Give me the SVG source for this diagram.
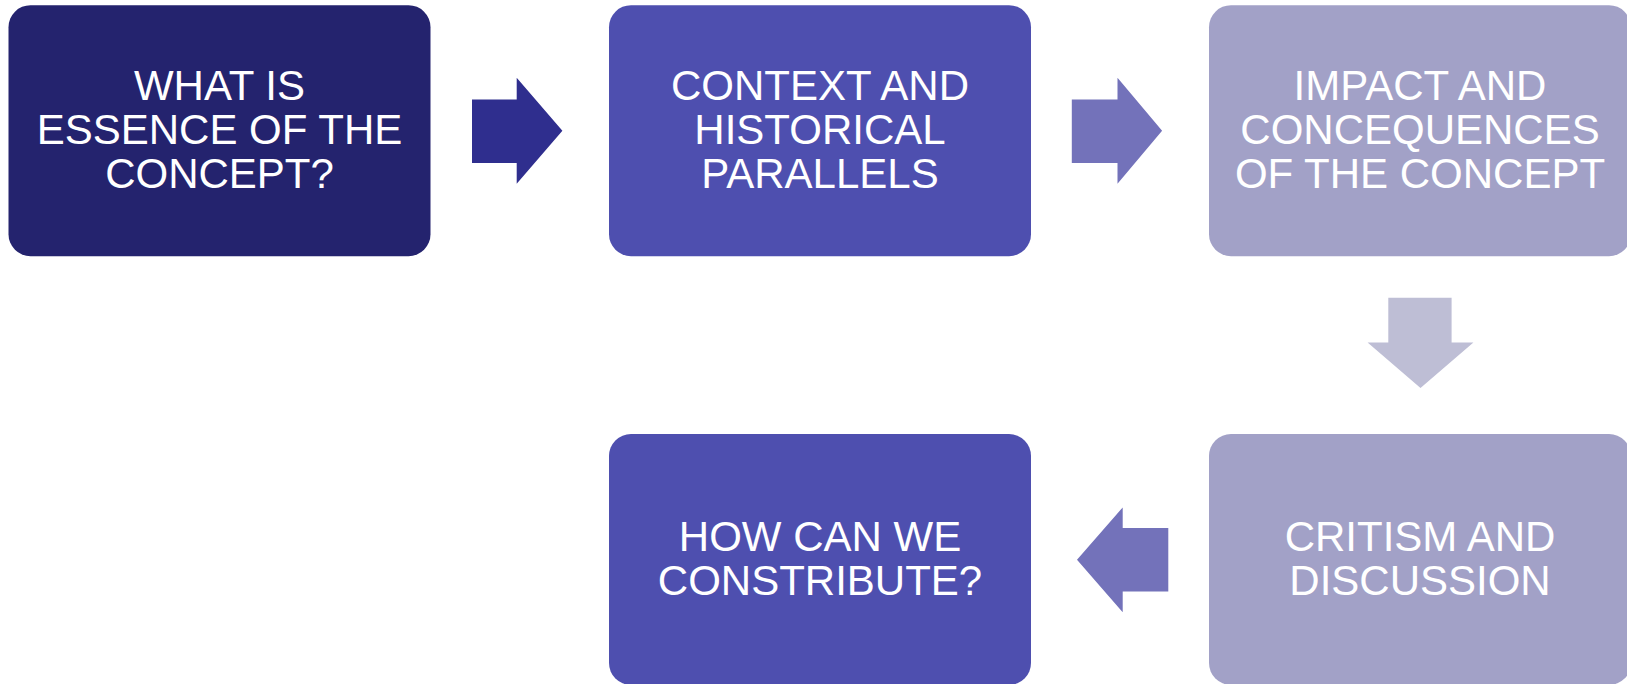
<svg xmlns="http://www.w3.org/2000/svg" width="1627" height="684" viewBox="0 0 1627 684">
<style>
.t{font-family:"Liberation Sans",Arial,sans-serif;font-size:42px;fill:#fff;text-anchor:middle}
</style>
<rect width="1627" height="684" fill="#fff"/>
<g id="connectors">
<polygon points="472,99.6 516.7,99.6 516.7,77.8 562.4,130.75 516.7,183.7 516.7,162.9 472,162.9" fill="#2F2E8E"/>
<polygon points="1071.8,99.6 1117.5,99.6 1117.5,77.8 1162.1,130.75 1117.5,183.7 1117.5,162.9 1071.8,162.9" fill="#7372BA"/>
<polygon points="1388.3,297.8 1451.6,297.8 1451.6,342.4 1473.4,342.4 1420.5,388 1367.6,342.4 1388.3,342.4" fill="#BEBED5"/>
<polygon points="1168.3,528.1 1122.7,528.1 1122.7,507.4 1077,559.8 1122.7,612.2 1122.7,591.4 1168.3,591.4" fill="#7372BA"/>
</g>
<g id="n1">
<rect x="8.5" y="5.2" width="422" height="251" rx="22" fill="#24236E"/>
<text class="t" x="219.5" y="100.2">WHAT IS</text>
<text class="t" x="219.5" y="144.2">ESSENCE OF THE</text>
<text class="t" x="219.5" y="188.2">CONCEPT?</text>
</g>
<g id="n2">
<rect x="609" y="5.2" width="422" height="251" rx="22" fill="#4E4FAF"/>
<text class="t" x="820" y="100.2">CONTEXT AND</text>
<text class="t" x="820" y="144.2">HISTORICAL</text>
<text class="t" x="820" y="188.2">PARALLELS</text>
</g>
<g id="n3">
<rect x="1209" y="5.2" width="422" height="251" rx="22" fill="#A2A1C7"/>
<text class="t" x="1420" y="100.2">IMPACT AND</text>
<text class="t" x="1420" y="144.2">CONCEQUENCES</text>
<text class="t" x="1420" y="188.2">OF THE CONCEPT</text>
</g>
<g id="n4">
<rect x="1209" y="434" width="422" height="251" rx="22" fill="#A2A1C7"/>
<text class="t" x="1420" y="550.7">CRITISM AND</text>
<text class="t" x="1420" y="594.7">DISCUSSION</text>
</g>
<g id="n5">
<rect x="609" y="434" width="422" height="251" rx="22" fill="#4E4FAF"/>
<text class="t" x="820" y="550.7">HOW CAN WE</text>
<text class="t" x="820" y="594.7">CONSTRIBUTE?</text>
</g>
</svg>
